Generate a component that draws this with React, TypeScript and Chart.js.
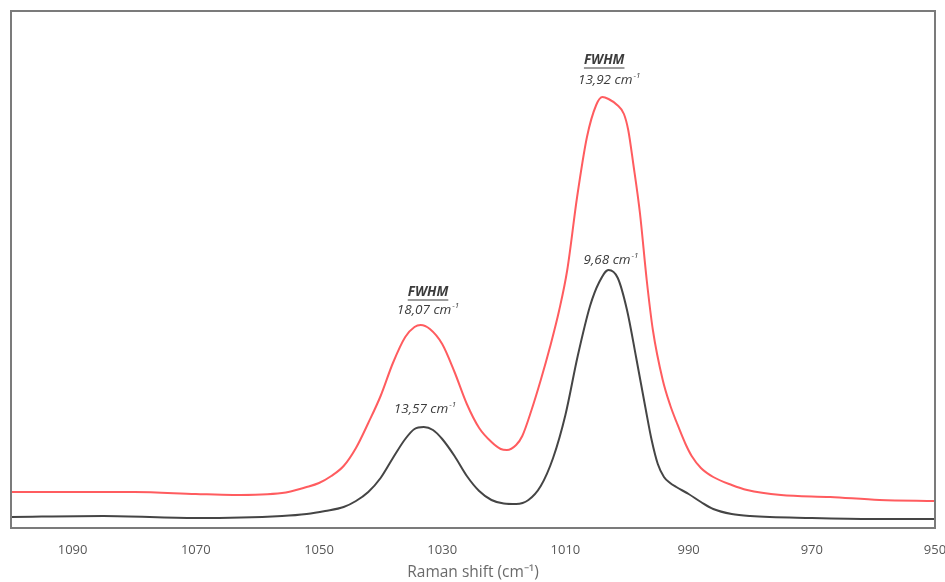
import React, { useEffect, useRef } from "react";
import { Chart, registerables } from "chart.js";

Chart.register(...registerables);

// Raman shift (cm-1) and intensity (arbitrary units) for each spectrum
const redShift = [1100, 1090, 1080, 1070, 1064, 1056, 1052, 1050, 1048, 1046, 1044, 1042, 1040, 1038, 1036, 1034.5, 1033.5, 1032, 1030, 1028, 1026, 1024, 1022, 1020.5, 1019.5, 1018, 1017, 1015.5, 1014, 1012.5, 1011, 1009.7, 1008.1, 1006.5, 1005, 1004, 1003, 1001.6, 1000.5, 999.8, 999, 997.9, 996.8, 995.8, 994.2, 993, 991.9, 990.5, 989.5, 988, 986, 983, 980.5, 975, 967, 959, 950];
const redIntensity = [36, 36, 36, 34, 33, 35, 41, 45, 52, 62, 80, 105, 132, 165, 191, 201, 203, 199, 184, 156, 124, 100, 86, 79, 78, 83, 92, 118, 148, 181, 218, 258, 331, 391, 423, 431, 429, 423, 414, 398, 365, 315, 248, 198, 148, 123, 105, 84, 72, 60, 51, 43, 38, 33, 31, 28, 27];

const blackShift = [1100, 1085, 1070, 1056, 1052, 1049, 1046, 1044, 1042, 1040, 1038, 1036, 1034.5, 1033, 1031.5, 1030, 1028, 1026, 1024, 1022, 1020, 1018, 1016, 1014, 1012, 1010, 1008, 1006, 1004.5, 1003, 1001.5, 1000, 998.5, 997, 996, 995, 994, 993, 992, 990, 988, 986, 983, 980, 970, 960, 950];
const blackIntensity = [11, 12, 10, 12, 14, 17, 21, 27, 36, 50, 70, 89, 99, 101, 98, 89, 72, 52, 37, 28, 24.5, 24, 28, 42, 70, 113, 172, 222, 246, 258, 250, 218, 170, 120, 88, 64, 51, 45, 41, 34, 26, 19, 14, 12, 10, 9, 9];

const xTicks = [1090, 1070, 1050, 1030, 1010, 990, 970, 950];

// annotation texts: main text, superscript, position (shift, intensity), header flag
const labelTexts = ["FWHM", "18,07 cm", "13,57 cm", "FWHM", "13,92 cm", "9,68 cm"];
const labelSup = ["", "-1", "-1", "", "-1", "-1"];
const labelShift = [1032.3, 1032.3, 1032.8, 1003.7, 1002.9, 1002.6];
const labelIntensity = [236, 218, 119, 468, 448, 268];
const labelIsHeader = [true, false, false, true, false, false];

const FONT = "'Open Sans', 'Liberation Sans', sans-serif";

const framePlugin = {
  id: "frame",
  afterDatasetsDraw(chart: any) {
    const { ctx, chartArea } = chart;
    ctx.save();
    ctx.strokeStyle = "#7b7b7b";
    ctx.lineWidth = 2;
    ctx.strokeRect(chartArea.left, chartArea.top, chartArea.right - chartArea.left, chartArea.bottom - chartArea.top);
    ctx.restore();
  },
};

const labelPlugin = {
  id: "fwhmLabels",
  afterDatasetsDraw(chart: any) {
    const { ctx } = chart;
    const xs = chart.scales.x;
    const ys = chart.scales.y;
    ctx.save();
    ctx.fillStyle = "#3c3c3c";
    ctx.strokeStyle = "#3c3c3c";
    ctx.textBaseline = "middle";
    ctx.textAlign = "left";
    for (let i = 0; i < labelTexts.length; i++) {
      const px = xs.getPixelForValue(labelShift[i]);
      const py = ys.getPixelForValue(labelIntensity[i]);
      if (labelIsHeader[i]) {
        ctx.font = `italic bold 13.5px ${FONT}`;
        const w = ctx.measureText(labelTexts[i]).width;
        const x0 = px - w / 2;
        ctx.fillText(labelTexts[i], x0, py);
        ctx.lineWidth = 1;
        ctx.beginPath();
        ctx.moveTo(x0, py + 8);
        ctx.lineTo(x0 + w, py + 8);
        ctx.stroke();
      } else {
        ctx.font = `italic 13.5px ${FONT}`;
        const w1 = ctx.measureText(labelTexts[i]).width;
        ctx.font = `italic 8px ${FONT}`;
        const w2 = ctx.measureText(labelSup[i]).width;
        const x0 = px - (w1 + w2 + 1) / 2;
        ctx.font = `italic 13.5px ${FONT}`;
        ctx.fillText(labelTexts[i], x0, py);
        ctx.font = `italic 8px ${FONT}`;
        ctx.fillText(labelSup[i], x0 + w1 + 1, py - 4.5);
      }
    }
    ctx.restore();
  },
};

export default function App() {
  const canvasRef = useRef<HTMLCanvasElement | null>(null);

  useEffect(() => {
    document.body.style.margin = "0";
    const canvas = canvasRef.current;
    if (!canvas) return;
    const chart = new Chart(canvas, {
      type: "line",
      data: {
        datasets: [
          {
            label: "red",
            data: redShift.map((x, i) => ({ x, y: redIntensity[i] })),
            borderColor: "#ff5c5f",
            borderWidth: 2,
            pointRadius: 0,
            cubicInterpolationMode: "monotone",
            fill: false,
          },
          {
            label: "black",
            data: blackShift.map((x, i) => ({ x, y: blackIntensity[i] })),
            borderColor: "#454545",
            borderWidth: 2,
            pointRadius: 0,
            cubicInterpolationMode: "monotone",
            fill: false,
          },
        ],
      },
      options: {
        animation: false,
        responsive: false,
        maintainAspectRatio: false,
        layout: { padding: { left: 11, top: 11, right: 10, bottom: 0 } },
        plugins: { legend: { display: false }, tooltip: { enabled: false } },
        scales: {
          x: {
            type: "linear",
            reverse: true,
            min: 950,
            max: 1100,
            afterBuildTicks: (scale: any) => {
              scale.ticks = xTicks.map((v) => ({ value: v }));
            },
            afterFit: (scale: any) => {
              scale.height = 54;
              scale.paddingLeft = 0;
              scale.paddingRight = 0;
            },
            grid: {
              display: true,
              drawOnChartArea: false,
              drawTicks: true,
              tickLength: 14,
              color: "rgba(0,0,0,0)",
            },
            border: { display: false },
            ticks: {
              padding: 0,
              maxRotation: 0,
              autoSkip: false,
              color: "#585858",
              font: { family: FONT, size: 13 },
              callback: (v: any) => String(v),
            },
            title: {
              display: true,
              text: "Raman shift (cm⁻¹)",
              color: "#6a6a6a",
              font: { family: FONT, size: 15.5 },
              padding: { top: 0, bottom: 0 },
            },
          },
          y: {
            display: false,
            min: 0,
            max: 517,
          },
        },
      },
      plugins: [framePlugin, labelPlugin],
    } as any);
    return () => chart.destroy();
  }, []);

  return (
    <div style={{ width: 945, height: 582 }}>
      <canvas ref={canvasRef} width={945} height={582} style={{ display: "block" }} />
    </div>
  );
}
